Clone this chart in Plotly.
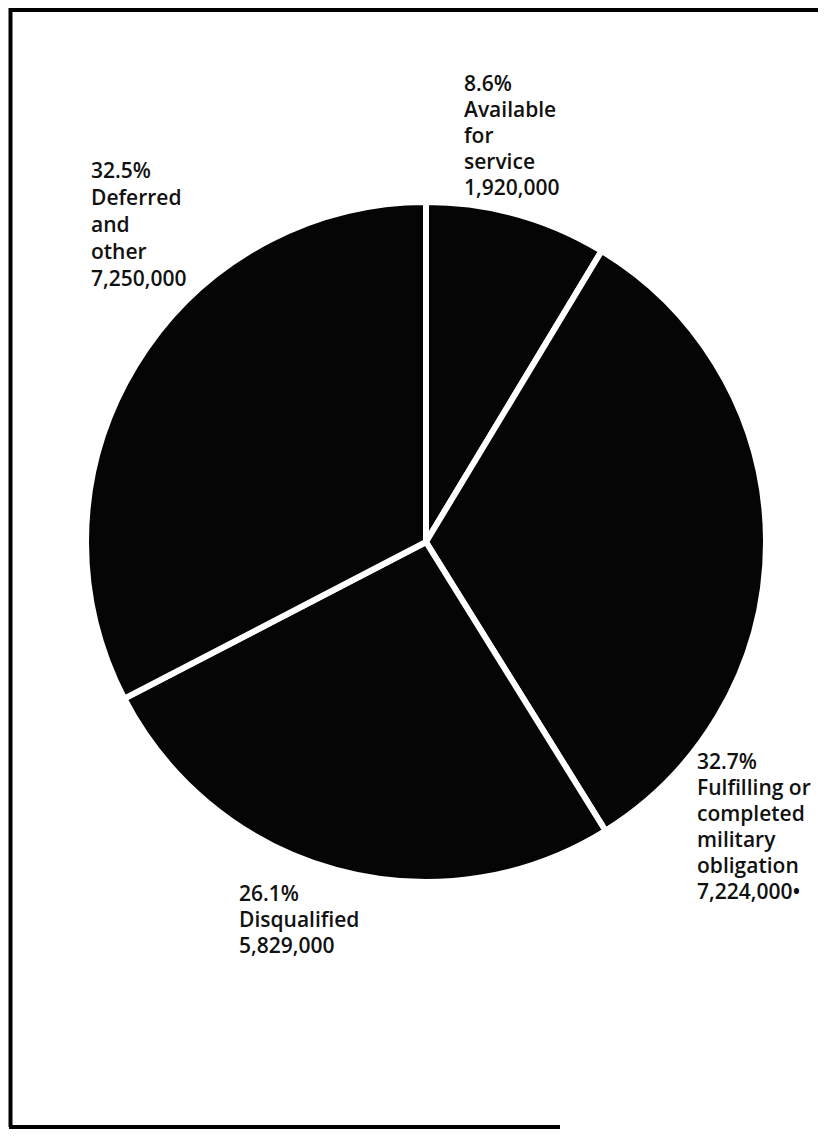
import plotly.graph_objects as go

# ---- data ----
categories = ["Available for service", "Fulfilling or completed military obligation",
              "Disqualified", "Deferred and other"]
values = [1920000, 7224000, 5829000, 7250000]
percents = ["8.6%", "32.7%", "26.1%", "32.5%"]
value_labels = ["1,920,000", "7,224,000•", "5,829,000", "7,250,000"]
name_lines = [["Available", "for", "service"],
              ["Fulfilling or", "completed", "military", "obligation"],
              ["Disqualified"],
              ["Deferred", "and", "other"]]

# page body has an 8px margin; work in window pixels and shift
OFF = 8
W, H = 826 - 2 * OFF, 1137 - 2 * OFF


def px(x):
    return (x - OFF) / W


def py(y):
    return 1 - (y - OFF) / H


# label placement (left x, first-line centre y, line step) in window pixels
label_pos = [(463, 83, 26), (696, 761, 26), (238, 893, 26), (90, 170, 27)]

cx, cy, r = 426, 542, 340

fig = go.Figure()
fig.add_trace(go.Pie(
    values=values, labels=categories, sort=False, direction="clockwise", rotation=0,
    marker=dict(colors=["#050505"] * 4, line=dict(color="white", width=6)),
    textinfo="none", hoverinfo="skip", showlegend=False,
    domain=dict(x=[px(cx - r), px(cx + r)], y=[py(cy + r), py(cy - r)]),
))

font = dict(family="Open Sans, sans-serif", size=21, color="#111", weight=600)
for i in range(len(categories)):
    lines = [percents[i]] + name_lines[i] + [value_labels[i]]
    x0, y0, step = label_pos[i]
    for k, t in enumerate(lines):
        fig.add_annotation(text=t, x=px(x0), y=py(y0 + k * step), xref="paper", yref="paper",
                           xanchor="left", yanchor="middle", showarrow=False, font=font,
                           align="left", borderpad=0)

frame = dict(color="black", width=4)
fig.add_shape(type="line", xref="paper", yref="paper", x0=px(9), x1=1, y0=py(10), y1=py(10), line=frame)
fig.add_shape(type="line", xref="paper", yref="paper", x0=px(10.5), x1=px(10.5), y0=py(8), y1=py(1127), line=frame)
fig.add_shape(type="line", xref="paper", yref="paper", x0=px(9), x1=px(560), y0=py(1127), y1=py(1127), line=frame)

fig.update_layout(width=W, height=H, margin=dict(l=0, r=0, t=0, b=0),
                  paper_bgcolor="white", plot_bgcolor="white")
fig.write_html("out.html")
